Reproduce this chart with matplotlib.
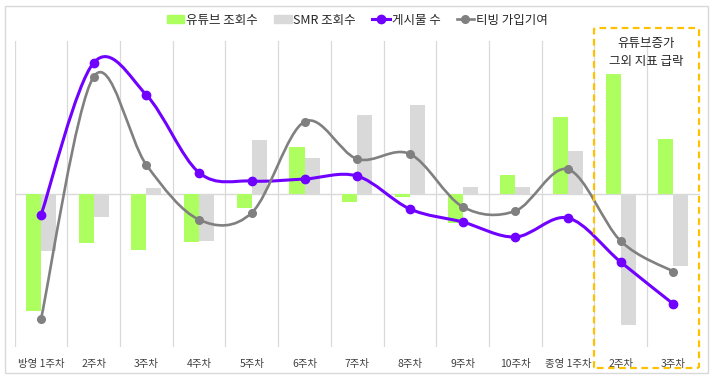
import matplotlib.pyplot as plt
from matplotlib.path import Path
from matplotlib.patches import PathPatch, Patch, FancyBboxPatch, Rectangle
from matplotlib.lines import Line2D
import numpy as np

plt.rcParams['font.family'] = ['Noto Sans CJK KR', 'DejaVu Sans']

weeks = ["방영 1주차", "2주차", "3주차", "4주차", "5주차", "6주차", "7주차",
         "8주차", "9주차", "10주차", "종영 1주차", "2주차", "3주차"]
youtube_views = [-116.4, -48.4, -55.4, -47.4, -13.4, 47.3, -7.4, -3.0, -29.0, 19.3, 77.3, 120.3, 55.3]
smr_views = [-56.4, -22.4, 6.6, -46.4, 54.3, 36.3, 79.3, 89.3, 7.3, 7.3, 43.3, -130.7, -71.7]
posts = [-20.7, 131.6, 99.3, 21.6, 13.3, 15.3, 18.3, -14.7, -27.7, -42.7, -23.7, -67.7, -109.7]
tving_join = [-124.7, 117.6, 29.3, -25.4, -18.4, 72.6, 35.3, 40.3, -12.4, -16.7, 25.0, -46.7, -77.3]

GREEN = "#ADFF60"
LIGHT = "#D9D9D9"
PURPLE = "#7000FF"
GRAY = "#808080"


def smooth_path(xs, ys):
    # excel-style smoothed line: cubic bezier segments through the points
    pts = np.column_stack([xs, ys]).astype(float)
    n = len(pts)
    verts = [pts[0]]
    codes = [Path.MOVETO]
    for i in range(n - 1):
        p0 = pts[max(i - 1, 0)]
        p1 = pts[i]
        p2 = pts[i + 1]
        p3 = pts[min(i + 2, n - 1)]
        c1 = p1 + (p2 - p0) / 6
        c2 = p2 - (p3 - p1) / 6
        verts += [c1, c2, p2]
        codes += [Path.CURVE4] * 3
    return Path(verts, codes)


fig = plt.figure(figsize=(7.16, 3.8), dpi=100)
ax = fig.add_axes([14.7 / 716, 1 - 347 / 380, 685 / 716, 306 / 380])

x = np.arange(len(weeks))
w = 0.285
ax.bar(x - w / 2, youtube_views, w, color=GREEN, zorder=2)
ax.bar(x + w / 2, smr_views, w, color=LIGHT, zorder=2)

for b in np.arange(-0.5, len(weeks), 1):
    ax.axvline(b, color=LIGHT, lw=0.9, zorder=1)
ax.axhline(0, color=LIGHT, lw=1, zorder=1)

ax.add_patch(PathPatch(smooth_path(x, posts), fc="none", ec=PURPLE, lw=2.2, zorder=3))
ax.plot(x, posts, "o", color=PURPLE, ms=6, zorder=4)
ax.add_patch(PathPatch(smooth_path(x, tving_join), fc="none", ec=GRAY, lw=1.9, zorder=5))
ax.plot(x, tving_join, "o", color=GRAY, ms=5.5, zorder=6)

ax.set_xlim(-0.5, len(weeks) - 0.5)
ax.set_ylim(-152.7, 153.3)
ax.set_xticks(x)
ax.set_xticklabels(weeks, fontsize=7.5, color="#404040")
ax.tick_params(axis="x", length=0, pad=9)
ax.set_yticks([])
for s in ax.spines.values():
    s.set_visible(False)

handles = [
    Patch(color=GREEN, label="유튜브 조회수"),
    Patch(color=LIGHT, label="SMR 조회수"),
    Line2D([], [], color=PURPLE, lw=2.2, marker="o", ms=6, label="게시물 수"),
    Line2D([], [], color=GRAY, lw=1.9, marker="o", ms=5.5, label="티빙 가입기여"),
]
fig.legend(handles=handles, loc="center", bbox_to_anchor=(0.499, 0.947), ncol=4,
           frameon=False, fontsize=9, handlelength=1.4, handleheight=0.6,
           handletextpad=0.15, columnspacing=1.3, labelcolor="#262626")

# highlight box for the last two weeks
fig.patches.append(FancyBboxPatch((594 / 716, 12 / 380), 105 / 716, 340 / 380,
                                  boxstyle="round,pad=0,rounding_size=0.004",
                                  transform=fig.transFigure, fill=False,
                                  ec="#FFC000", lw=1.6, ls=(0, (3, 2)), zorder=10))
fig.text(646 / 716, 1 - 43 / 380, "유튜브증가", ha="center", va="center",
         fontsize=9, color="#262626")
fig.text(646 / 716, 1 - 62 / 380, "그외 지표 급락", ha="center", va="center",
         fontsize=9, color="#262626")

fig.patches.append(Rectangle((5 / 716, 7 / 380), 703 / 716, 367 / 380,
                             transform=fig.transFigure, fill=False, ec=LIGHT, lw=1))

fig.savefig("out.png", dpi=100)
